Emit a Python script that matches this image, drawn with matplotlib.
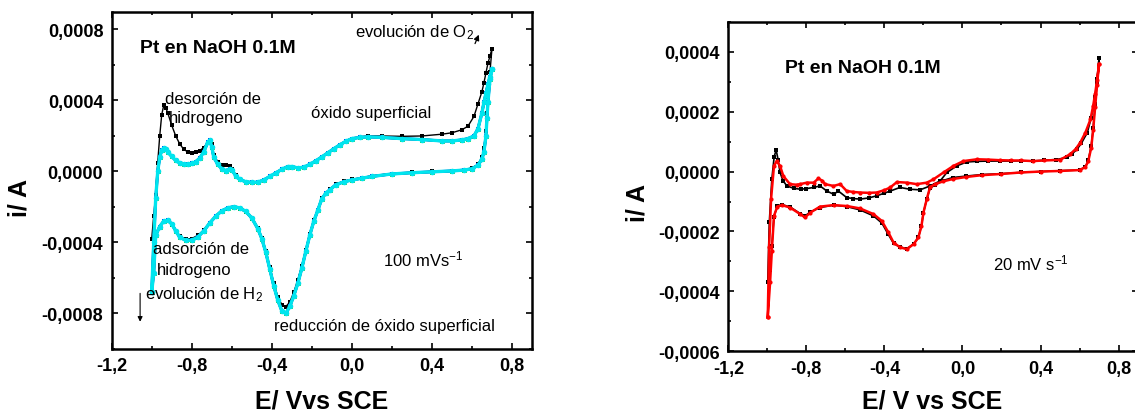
# library imports
import matplotlib
matplotlib.use("Agg")
import matplotlib.pyplot as plt
from matplotlib.ticker import MultipleLocator, FuncFormatter

plt.rcParams['font.family'] = ['Liberation Sans', 'DejaVu Sans']
plt.rcParams['mathtext.fontset'] = 'custom'
plt.rcParams['mathtext.rm'] = 'Liberation Sans'
plt.rcParams['mathtext.it'] = 'Liberation Sans:italic'
plt.rcParams['mathtext.bf'] = 'Liberation Sans:bold'

# ---- left panel: 100 mV/s, five cycles (currents in uA) ----
E_an_100 = [-1.00, -0.99, -0.98, -0.97, -0.96, -0.95, -0.94, -0.93, -0.92, -0.90,
            -0.88, -0.86, -0.84, -0.82, -0.80, -0.78, -0.76, -0.74, -0.72, -0.71,
            -0.70, -0.69, -0.67, -0.65, -0.63, -0.61, -0.60, -0.58, -0.56, -0.53,
            -0.50, -0.47, -0.44, -0.41, -0.38, -0.35, -0.32, -0.30, -0.27, -0.24,
            -0.21, -0.18, -0.15, -0.12, -0.09, -0.06, -0.03, 0.00, 0.04, 0.08,
            0.15, 0.25, 0.35, 0.45, 0.50, 0.55, 0.58, 0.61, 0.63, 0.65,
            0.66, 0.67, 0.68, 0.69, 0.70]
i_an_first = [-380, -250, -130, 50, 200, 320, 372, 360, 330, 260,
              200, 155, 125, 110, 105, 108, 118, 135, 165, 178,
              155, 95, 55, 38, 35, 30, 12, -22, -42, -58,
              -62, -60, -48, -28, -8, 12, 28, 28, 20, 24,
              40, 60, 82, 105, 128, 150, 170, 185, 195, 200,
              200, 198, 200, 210, 218, 235, 255, 310, 380, 450,
              500, 555, 610, 650, 690]
i_an_later = [-680, -400, -150, 0, 80, 120, 130, 125, 110, 85,
              62, 48, 40, 40, 45, 55, 75, 110, 165, 175,
              140, 80, 40, 15, 5, 15, 10, -25, -45, -58,
              -62, -60, -48, -28, -8, 12, 28, 28, 20, 24,
              40, 60, 82, 105, 128, 150, 170, 185, 192, 195,
              192, 185, 180, 172, 172, 178, 185, 200, 240, 330,
              390, 440, 490, 535, 575]

E_ca_100 = [0.70, 0.69, 0.68, 0.675, 0.67, 0.66, 0.65, 0.63, 0.60, 0.56,
            0.50, 0.40, 0.30, 0.20, 0.10, 0.05, 0.00, -0.04, -0.08, -0.11,
            -0.13, -0.15, -0.17, -0.19, -0.21, -0.23, -0.25, -0.27, -0.29, -0.31,
            -0.33, -0.35, -0.37, -0.39, -0.41, -0.43, -0.45, -0.47, -0.50, -0.53,
            -0.56, -0.59, -0.62, -0.65, -0.68, -0.71, -0.74, -0.77, -0.80, -0.83,
            -0.86, -0.88, -0.90, -0.92, -0.94, -0.96, -0.98, -0.99, -1.00]
i_ca_first = [690, 560, 420, 330, 230, 130, 80, 40, 20, 10,
              5, 0, -5, -12, -25, -35, -45, -55, -72, -100,
              -120, -150, -215, -275, -350, -440, -530, -610, -680, -735,
              -762, -750, -705, -630, -540, -450, -375, -320, -265, -230,
              -210, -202, -210, -225, -255, -290, -330, -360, -378, -380,
              -365, -335, -300, -280, -285, -315, -350, -370, -380]
i_ca_later = [575, 520, 390, 300, 200, 110, 70, 35, 15, 8,
              3, -2, -7, -14, -28, -38, -48, -58, -75, -103,
              -123, -153, -218, -280, -358, -450, -545, -630, -700, -760,
              -800, -785, -725, -645, -550, -455, -378, -322, -262, -225,
              -205, -198, -205, -222, -252, -290, -335, -370, -388, -388,
              -370, -335, -295, -275, -280, -310, -360, -570, -680]

# ---- right panel: 20 mV/s, two cycles (currents in uA) ----
E_an_black = [-0.998, -0.99, -0.977, -0.965, -0.955, -0.945, -0.935, -0.92, -0.90, -0.865,
              -0.83, -0.80, -0.763, -0.73, -0.695, -0.66, -0.636, -0.593, -0.56, -0.525,
              -0.48, -0.44, -0.40, -0.37, -0.32, -0.27, -0.217, -0.166, -0.114, -0.08,
              -0.029, 0.022, 0.074, 0.13, 0.19, 0.25, 0.30, 0.36, 0.42, 0.48,
              0.535, 0.56, 0.587, 0.61, 0.64, 0.66, 0.68, 0.69, 0.70]
i_an_black = [-370, -170, -26, 50, 72, 40, -3, -30, -48, -56,
              -59, -57, -53, -48, -65, -76, -65, -87, -90, -92,
              -88, -81, -72, -65, -53, -59, -61, -48, -31, -3,
              19, 32, 34, 35, 35, 35, 36, 35, 38, 40,
              47, 58, 74, 95, 130, 180, 250, 310, 378]
E_an_red = [-0.998, -0.991, -0.981, -0.966, -0.952, -0.935, -0.918, -0.884, -0.85, -0.832,
            -0.798, -0.763, -0.738, -0.72, -0.704, -0.661, -0.627, -0.593, -0.56, -0.525,
            -0.48, -0.44, -0.40, -0.37, -0.336, -0.285, -0.234, -0.183, -0.149, -0.097,
            -0.046, 0.005, 0.074, 0.13, 0.19, 0.25, 0.30, 0.36, 0.42, 0.50,
            0.552, 0.58, 0.604, 0.63, 0.656, 0.67, 0.68, 0.69, 0.70]
i_an_red = [-487, -253, -92, 19, 35, 19, -15, -42, -44, -42,
            -37, -37, -23, -30, -42, -48, -42, -65, -68, -70,
            -71, -70, -62, -53, -35, -37, -42, -37, -26, -3,
            19, 35, 41, 40, 38, 37, 37, 35, 37, 39,
            58, 75, 97, 130, 174, 220, 260, 305, 360]
E_ca_20 = [0.70, 0.69, 0.68, 0.67, 0.66, 0.645, 0.63, 0.60, 0.50, 0.40,
           0.30, 0.20, 0.10, 0.02, -0.05, -0.10, -0.14, -0.166, -0.183, -0.20,
           -0.21, -0.226, -0.25, -0.285, -0.32, -0.353, -0.38, -0.413, -0.456, -0.525,
           -0.593, -0.66, -0.73, -0.78, -0.807, -0.832, -0.884, -0.926, -0.949, -0.966,
           -0.977, -0.986, -0.998]
i_ca_red = [360, 290, 215, 140, 80, 35, 15, 5, 2, 0,
            -3, -8, -12, -18, -25, -33, -42, -52, -92, -137,
            -181, -220, -242, -259, -253, -237, -203, -165, -142, -123,
            -115, -112, -117, -137, -153, -142, -120, -112, -117, -148,
            -265, -370, -487]
i_ca_black = [378, 300, 225, 145, 85, 38, 15, 5, 3, 0,
              -3, -7, -10, -15, -20, -30, -45, -55, -92, -137,
              -181, -220, -242, -257, -252, -240, -210, -172, -148, -128,
              -117, -112, -120, -135, -148, -140, -118, -110, -115, -150,
              -250, -330, -370]

UA = 1e-6


def comma_formatter(decimals):
    def fmt(v, pos):
        if abs(v) < 1e-12:
            v = 0.0
        return "{:.{}f}".format(v, decimals).replace(".", ",")
    return FuncFormatter(fmt)


def style_axes(ax, ymajor, yminor):
    ax.xaxis.set_major_locator(MultipleLocator(0.4))
    ax.xaxis.set_minor_locator(MultipleLocator(0.2))
    ax.yaxis.set_major_locator(MultipleLocator(ymajor))
    ax.yaxis.set_minor_locator(MultipleLocator(yminor))
    ax.xaxis.set_major_formatter(comma_formatter(1))
    ax.yaxis.set_major_formatter(comma_formatter(4))
    ax.tick_params(which="both", direction="in", top=True, right=True, width=1.2)
    ax.tick_params(which="major", length=4, labelsize=13, pad=6)
    ax.tick_params(which="minor", length=2)
    for lab in ax.get_xticklabels() + ax.get_yticklabels():
        lab.set_fontweight("bold")
    for sp in ax.spines.values():
        sp.set_linewidth(1.8)


fig = plt.figure(figsize=(11.35, 4.14), dpi=100)

# ---------------- left panel ----------------
ax1 = fig.add_axes([0.0984, 0.1546, 0.3703, 0.8147])
ax1.plot(E_an_100 + E_ca_100, [v * UA for v in i_an_first + i_ca_first],
         "-s", color="black", lw=1.0, ms=2.6, mew=0, zorder=1)
later_styles = [("red", "o", 3.4, 1.6), ("#00cc00", "^", 3.6, 1.8),
                ("blue", "s", 3.4, 2.0), ("#00e5ee", "o", 4.0, 2.4)]
for col, mk, ms, lw in later_styles:
    ax1.plot(E_an_100 + E_ca_100, [v * UA for v in i_an_later + i_ca_later],
             "-", marker=mk, color=col, lw=lw, ms=ms, mew=0, zorder=2)
ax1.set_xlim(-1.2, 0.9)
ax1.set_ylim(-0.001, 0.0009)
style_axes(ax1, 0.0004, 0.0002)

ax1.text(0.067, 0.895, "Pt en NaOH 0.1M", transform=ax1.transAxes,
         fontsize=14, fontweight="bold", va="center")
ax1.text(0.579, 0.941, r"evolución de O$_\mathregular{2}$", transform=ax1.transAxes,
         fontsize=12, va="center")
ax1.annotate("", xy=(0.64, 0.000785), xytext=(0.61, 0.000706),
             arrowprops=dict(arrowstyle="-|>", color="black", lw=0.9, mutation_scale=8))
ax1.text(0.127, 0.744, "desorción de", transform=ax1.transAxes, fontsize=12, va="center")
ax1.text(0.137, 0.687, "hidrogeno", transform=ax1.transAxes, fontsize=12, va="center")
ax1.text(0.4735, 0.70, "óxido superficial", transform=ax1.transAxes, fontsize=12, va="center")
ax1.text(0.099, 0.298, "adsorción de", transform=ax1.transAxes, fontsize=12, va="center")
ax1.text(0.107, 0.235, "hidrogeno", transform=ax1.transAxes, fontsize=12, va="center")
ax1.text(0.079, 0.163, r"evolución de H$_\mathregular{2}$", transform=ax1.transAxes,
         fontsize=12, va="center")
ax1.annotate("", xy=(-1.058, -0.000862), xytext=(-1.058, -0.000671),
             arrowprops=dict(arrowstyle="-|>", color="black", lw=0.8, mutation_scale=7))
ax1.text(0.646, 0.269, r"100 mVs$^\mathregular{-1}$", transform=ax1.transAxes,
         fontsize=12, va="center")
ax1.text(0.386, 0.071, "reducción de óxido superficial", transform=ax1.transAxes,
         fontsize=12, va="center")

fig.text(0.0176, 0.522, "i/ A", rotation=90, fontsize=18, fontweight="bold",
         ha="center", va="center")
fig.text(0.2833, 0.031, "E/ Vvs SCE", fontsize=18, fontweight="bold",
         ha="center", va="center")

# ---------------- right panel ----------------
ax2 = fig.add_axes([0.6417, 0.149, 0.361, 0.796])
ax2.plot(E_an_black + E_ca_20, [v * UA for v in i_an_black + i_ca_black],
         "-s", color="black", lw=1.2, ms=2.6, mew=0)
ax2.plot(E_an_red + E_ca_20, [v * UA for v in i_an_red + i_ca_red],
         "-o", color="red", lw=1.8, ms=3.0, mew=0)
ax2.set_xlim(-1.2, 0.9)
ax2.set_ylim(-0.0006, 0.0005)
style_axes(ax2, 0.0002, 0.0001)

ax2.text(0.139, 0.862, "Pt en NaOH 0.1M", transform=ax2.transAxes,
         fontsize=14, fontweight="bold", va="center")
ax2.text(0.646, 0.27, r"20 mV s$^\mathregular{-1}$", transform=ax2.transAxes,
         fontsize=12, va="center")

fig.text(0.5618, 0.51, "i/ A", rotation=90, fontsize=18, fontweight="bold",
         ha="center", va="center")
fig.text(0.8216, 0.031, "E/ V vs SCE", fontsize=18, fontweight="bold",
         ha="center", va="center")

plt.savefig("out.png", dpi=100)
plt.close()
